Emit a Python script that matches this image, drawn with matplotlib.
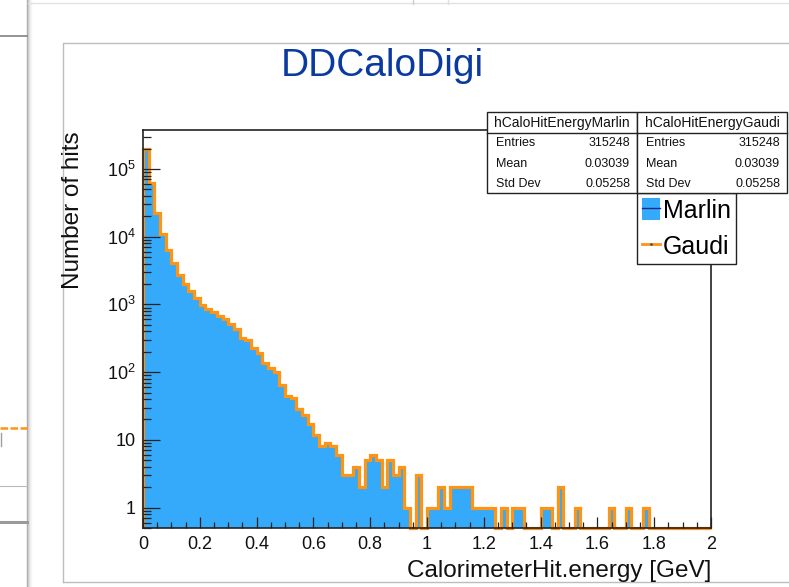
import numpy as np
import matplotlib
matplotlib.use("Agg")
import matplotlib.pyplot as plt
from matplotlib.lines import Line2D
from matplotlib.patches import Rectangle, Patch
from matplotlib.legend_handler import HandlerTuple
from matplotlib.ticker import FixedLocator, FuncFormatter, LogLocator, NullFormatter

plt.rcParams['font.family'] = ['Liberation Sans', 'DejaVu Sans']
plt.rcParams['mathtext.fontset'] = 'custom'
plt.rcParams['mathtext.rm'] = 'Liberation Sans'

# hit energy histogram, 100 bins of 0.02 GeV between 0 and 2 GeV
bin_edges = np.linspace(0.0, 2.0, 101)
counts = np.array([
    195000, 61500, 22200, 11000, 6400, 4060, 2730, 2010, 1590, 1240,
    990, 870, 760, 680, 600, 515, 430, 320, 300, 228,
    190, 136, 117, 102, 65, 45, 42, 29, 23, 17,
    12, 8, 9, 8, 6, 3, 3, 4, 2, 5,
    6, 5, 2, 5, 3, 4, 1, 0, 3, 0,
    1, 1, 2, 1, 2, 2, 2, 2, 1, 1,
    1, 1, 0, 1, 0, 1, 1, 0, 0, 0,
    1, 1, 0, 2, 0, 0, 1, 0, 0, 0,
    0, 0, 1, 0, 0, 1, 0, 0, 1, 0,
    0, 0, 0, 0, 0, 0, 0, 0, 0, 0,
])
counts_marlin = counts
counts_gaudi = counts

stat_names = ["hCaloHitEnergyMarlin", "hCaloHitEnergyGaudi"]
stat_rows = ["Entries", "Mean", "Std Dev"]
stat_values = [["315248", "0.03039", "0.05258"],
               ["315248", "0.03039", "0.05258"]]
legend_labels = ["Marlin", "Gaudi"]

ymin, ymax = 0.5, 3.76e5
fill_blue = '#35a9fa'
line_blue = '#1a2a8c'
orange = '#ff9412'
title_blue = '#0a3a9f'

W, H = 789, 587


def fx(x):
    return x / W


def fy(y):
    return 1 - y / H


fig = plt.figure(figsize=(W / 100, H / 100), dpi=100)
fig.patch.set_facecolor('white')

# bits of the surrounding window
def fig_line(xs, ys, **kw):
    fig.add_artist(Line2D([fx(v) for v in xs], [fy(v) for v in ys], **kw))

for i, c in enumerate(['#a8a8a8', '#c8c8c8', '#dedede', '#ececec', '#f5f5f5']):
    fig_line([27 + i, 27 + i], [0, 587], color=c, lw=1.0)
fig_line([0, 27], [36, 36], color='#808080', lw=1.2)
fig_line([28, 789], [3, 3], color='#e2e2e2', lw=1.0)
fig_line([413, 413], [0, 4], color='#cfcfcf', lw=1.0)
fig_line([448, 448], [0, 4], color='#e0e0e0', lw=1.0)
fig_line([0, 27], [428, 428], color=orange, lw=1.8, ls=(0, (3, 1)))
fig_line([1, 1], [433, 446], color='#a0a0a0', lw=1.0)
fig_line([0, 27], [486, 486], color='#b8b8b8', lw=0.8)
fig_line([0, 27], [522, 522], color='#9a9a9a', lw=2.2)
# canvas border
fig_line([63, 63, 789], [582, 43, 43], color='#bdbdbd', lw=1.0)
fig_line([63, 789], [582, 582], color='#bdbdbd', lw=1.0)

ax = fig.add_axes([fx(143), fy(528), fx(711) - fx(143), fy(130) - fy(528)])
ax.set_yscale('log')
ax.set_xlim(0, 2)
ax.set_ylim(ymin, ymax)
ax.set_axisbelow(False)

marlin_draw = np.where(counts_marlin > 0, counts_marlin, ymin)
gaudi_draw = np.where(counts_gaudi > 0, counts_gaudi, ymin)
ax.stairs(marlin_draw, bin_edges, fill=True, baseline=ymin,
          facecolor=fill_blue, edgecolor='none', zorder=1)
ax.stairs(marlin_draw, bin_edges, baseline=ymin, color=line_blue,
          lw=0.8, zorder=1.2)
ax.stairs(gaudi_draw, bin_edges, baseline=ymin, color=orange,
          lw=2.3, zorder=2, clip_on=False)

for s in ['left', 'bottom', 'top', 'right']:
    ax.spines[s].set_color('#222222')
    ax.spines[s].set_linewidth(1.2)
    ax.spines[s].set_zorder(3)

ax.xaxis.set_major_locator(FixedLocator(np.arange(0, 2.01, 0.2)))
ax.xaxis.set_minor_locator(FixedLocator(np.arange(0, 2.01, 0.05)))
ax.xaxis.set_major_formatter(FuncFormatter(lambda v, p: '%g' % round(v, 2)))


def log_label(v, p):
    n = int(round(np.log10(v)))
    if n == 0:
        return '1'
    if n == 1:
        return '10'
    return r'$\mathregular{10^{%d}}$' % n


ax.yaxis.set_major_locator(LogLocator(base=10, numticks=12))
ax.yaxis.set_minor_locator(LogLocator(base=10, subs=np.arange(2, 10), numticks=12))
ax.yaxis.set_major_formatter(FuncFormatter(log_label))
ax.yaxis.set_minor_formatter(NullFormatter())

ax.tick_params(axis='both', which='both', direction='in', top=False,
               right=False, color='#222222', width=0.9, labelsize=13,
               labelcolor='#111111')
ax.tick_params(axis='x', which='major', length=8, pad=6)
ax.tick_params(axis='x', which='minor', length=4.3)
ax.tick_params(axis='y', which='major', length=12, pad=5)
ax.tick_params(axis='y', which='minor', length=6)

fig.text(fx(382), fy(66), 'DDCaloDigi', ha='center', va='center',
         fontsize=28, color=title_blue)
fig.text(fx(73), fy(210), 'Number of hits', rotation=90, ha='center',
         va='center', fontsize=17.5, color='#111111')
fig.text(fx(711), fy(571), 'CalorimeterHit.energy [GeV]', ha='right',
         va='center', fontsize=17.5, color='#111111')

# statistics boxes
box_x = [487, 637]
box_w = 150
for k in range(2):
    x0 = box_x[k]
    fig.add_artist(Rectangle((fx(x0), fy(193)), fx(box_w), fy(112) - fy(193),
                             facecolor='white', edgecolor='#222222', lw=1.0,
                             zorder=5))
    fig_line([x0, x0 + box_w], [133, 133], color='#222222', lw=1.0, zorder=6)
    fig.text(fx(x0 + box_w / 2), fy(122.5), stat_names[k], ha='center',
             va='center', fontsize=10, color='#111111', zorder=7)
    for j, (name, val) in enumerate(zip(stat_rows, stat_values[k])):
        yy = 143 + j * 20.5
        fig.text(fx(x0 + 9), fy(yy), name, ha='left', va='center',
                 fontsize=9, color='#111111', zorder=7)
        fig.text(fx(x0 + box_w - 7), fy(yy), val, ha='right', va='center',
                 fontsize=9, color='#111111', zorder=7)

handles = [(Patch(facecolor=fill_blue, edgecolor='none'),
            Line2D([], [], color=line_blue, lw=1.0)),
           (Line2D([], [], color=orange, lw=2.0),
            Line2D([], [], color='#555555', marker='.', markersize=2, lw=0))]
leg = ax.legend(handles, legend_labels, loc='upper left',
                bbox_to_anchor=(fx(637), fy(193)), bbox_transform=fig.transFigure,
                handler_map={tuple: HandlerTuple(ndivide=1, pad=0)},
                fontsize=18, frameon=True, fancybox=False, shadow=False,
                borderpad=0.2, borderaxespad=0, handlelength=0.7,
                handleheight=1.0, handletextpad=0.15, labelspacing=0.45)
leg.get_frame().set_edgecolor('#222222')
leg.get_frame().set_linewidth(1.0)
leg.get_frame().set_alpha(1)
leg.set_zorder(8)

fig.savefig('out.png', dpi=100)
